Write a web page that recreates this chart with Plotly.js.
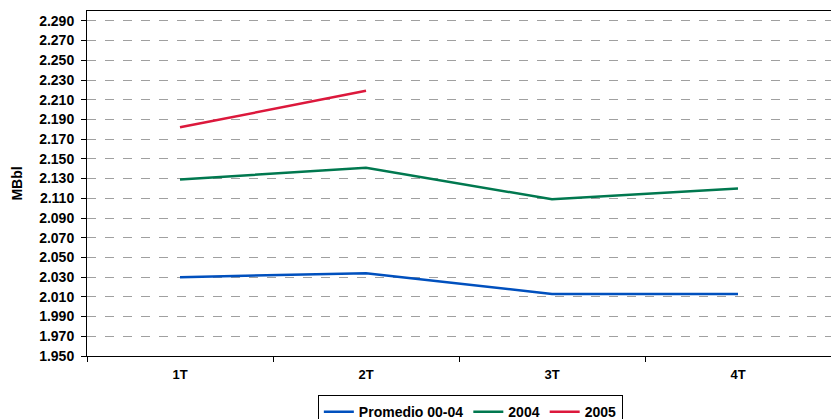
<!DOCTYPE html>
<html>
<head>
<meta charset="utf-8">
<script src="https://cdn.plot.ly/plotly-3.0.1.min.js"></script>
<style>html,body{margin:0;padding:0;background:#fff;}#chart{width:831px;height:419px;}</style>
</head>
<body>
<div id="chart"></div>
<script>
const categories = ["1T", "2T", "3T", "4T"];
const promedio = [2.030, 2.034, 2.013, 2.013];
const y2004 = [2.129, 2.141, 2.109, 2.120];
const y2005 = [2.182, 2.219];
const yTicks = [1.950, 1.970, 1.990, 2.010, 2.030, 2.050, 2.070, 2.090, 2.110, 2.130, 2.150, 2.170, 2.190, 2.210, 2.230, 2.250, 2.270, 2.290];

const fam = "Liberation Sans, Arial, sans-serif";

const traces = [
  {x: categories, y: promedio, name: "Promedio 00-04", type: "scatter", mode: "lines", line: {color: "#0050BE", width: 2.5}},
  {x: categories, y: y2004, name: "2004", type: "scatter", mode: "lines", line: {color: "#00784F", width: 2.5}},
  {x: categories.slice(0, y2005.length), y: y2005, name: "2005", type: "scatter", mode: "lines", line: {color: "#DC183C", width: 2.5}}
];

const layout = {
  width: 831, height: 419,
  margin: {l: 87, r: 0, t: 11, b: 63, autoexpand: false},
  paper_bgcolor: "#fff", plot_bgcolor: "#fff",
  font: {family: fam, size: 13, color: "#000"},
  showlegend: true,
  legend: {
    orientation: "h", xref: "container", yref: "container",
    x: 0.566, xanchor: "center", y: 0.057, yanchor: "top",
    bordercolor: "#000", borderwidth: 1,
    font: {family: fam, size: 14, color: "#000", weight: "bold"}
  },
  xaxis: {
    type: "category", range: [-0.5, 3.5],
    showline: true, linecolor: "#000", linewidth: 1, mirror: true,
    ticks: "outside", ticklen: 5, tickcolor: "#000", tickson: "boundaries",
    showgrid: false, zeroline: false,
    tickfont: {family: fam, size: 13, color: "#000", weight: "bold"},
    ticklabelstandoff: 6
  },
  yaxis: {
    range: [1.950, 2.300],
    tickvals: yTicks, tickformat: ".3f",
    showline: true, linecolor: "#000", linewidth: 1,
    ticks: "outside", ticklen: 5, tickcolor: "#000",
    showgrid: true, gridcolor: "#A0A0A0", griddash: "dash", gridwidth: 1,
    zeroline: false,
    tickfont: {family: fam, size: 14, color: "#000", weight: "bold"},
    ticklabelstandoff: 4,
    title: {text: "MBbl", font: {family: fam, size: 14, color: "#000", weight: "bold"}, standoff: 13}
  }
};

Plotly.newPlot("chart", traces, layout, {displayModeBar: false, staticPlot: true});
</script>
</body>
</html>
